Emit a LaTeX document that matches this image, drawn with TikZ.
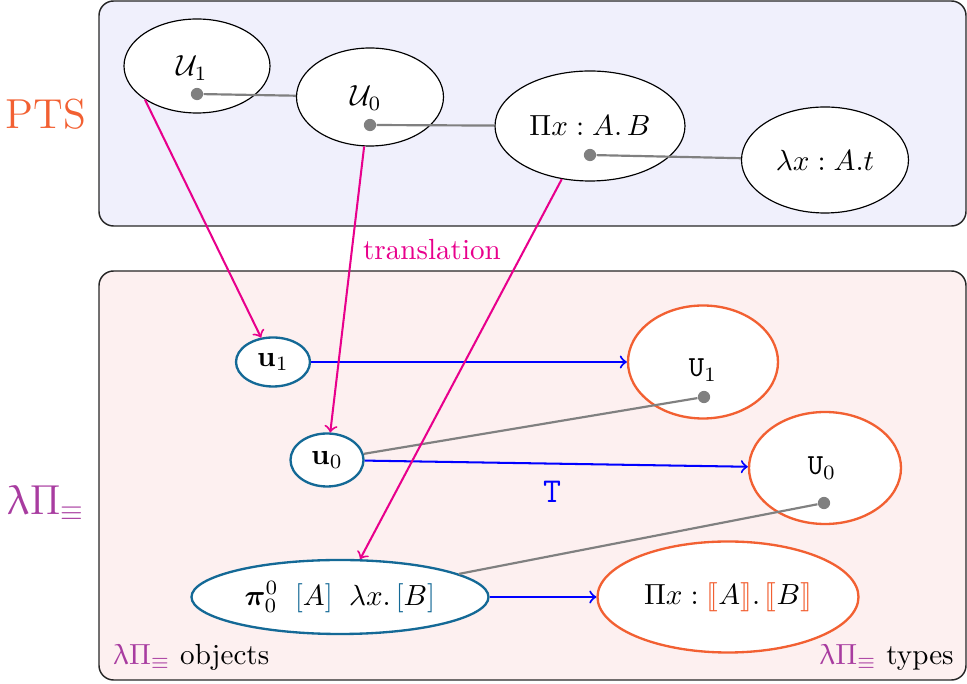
\documentclass[tikz,border=0pt]{standalone}
\usepackage{amsmath,amssymb,bm}
\usepackage{stmaryrd}
\usepackage{upgreek}
\usetikzlibrary{shapes.geometric}
\definecolor{ptsbg}{RGB}{240,240,252}
\definecolor{lpbg}{RGB}{253,240,240}
\definecolor{tealc}{RGB}{20,105,150}
\definecolor{orangec}{RGB}{242,96,50}
\definecolor{magc}{RGB}{232,0,140}
\definecolor{purpc}{RGB}{168,60,160}
\definecolor{greyc}{RGB}{128,128,128}
\tikzset{
  sz/.style 2 args={minimum width=#1*0.3436pt, minimum height=#2*0.3436pt},
  ptsnode/.style={ellipse, draw=black, fill=white, line width=0.4pt, inner sep=0pt},
  objnode/.style={ellipse, draw=tealc, fill=white, line width=0.8pt, inner sep=0pt},
  typnode/.style={ellipse, draw=orangec, fill=white, line width=0.8pt, inner sep=0pt},
  dot/.style={circle, fill=greyc, inner sep=0pt, minimum size=4.2pt},
  greyline/.style={draw=greyc, line width=0.75pt},
  transarrow/.style={draw=magc, line width=0.7pt, ->},
  tarrow/.style={draw=blue, line width=0.7pt, ->},
  region/.style={draw=black!85, line width=0.5pt, rounded corners=5pt},
}
\begin{document}
\begin{tikzpicture}[x=0.3436pt, y=-0.3436pt]
\useasboundingbox (0,0) rectangle (967,684);
% regions
\path[region, fill=ptsbg] (99,1) rectangle (966,226);
\path[region, fill=lpbg] (99,271) rectangle (966,680);
\node[text=orangec, font=\Large] (ptslab) at (46,114) {PTS};
\node[text=purpc, font=\Large] (lplab) at (46,503) {$\uplambda\Pi_{\equiv}$};
% PTS nodes
\node[ptsnode, sz={146}{94}] (U1) at (197,66) {};
\node (U1t) at (192,68) {$\mathcal{U}_1$};
\node[ptsnode, sz={147}{98}] (U0) at (370,97) {};
\node (U0t) at (366,98) {$\mathcal{U}_0$};
\node[ptsnode, sz={190}{110}] (Pi) at (590,126) {$\Pi x : A.\, B$};
\node[ptsnode, sz={167}{106}] (lam) at (825,160) {$\lambda x : A . t$};
\node[dot] (d1) at (197,94) {};
\node[dot] (d0) at (370,125) {};
\node[dot] (dp) at (590,155) {};
\draw[greyline] (d1) -- (U0);
\draw[greyline] (d0) -- (Pi);
\draw[greyline] (dp) -- (lam);
% lambda Pi nodes
\node[objnode, sz={74}{49}] (u1) at (273,362) {$\mathbf{u}_1$};
\node[objnode, sz={73}{53}] (u0) at (327,460) {$\mathbf{u}_0$};
\node[objnode, sz={297}{74}] (pi) at (340,597) {$\bm{\pi}^0_0\;\;{\color{tealc}[}A{\color{tealc}]}\;\;\lambda x.\,{\color{tealc}[}B{\color{tealc}]}$};
\node[typnode, sz={150}{113}] (TU1) at (703,362) {};
\node (TU1t) at (703,370) {$\mathtt{U}_1$};
\node[typnode, sz={152}{112}] (TU0) at (825,468) {};
\node (TU0t) at (822,468) {$\mathtt{U}_0$};
\node[typnode, sz={261}{111}] (TPi) at (728,597) {$\Pi x : {\color{orangec}\llbracket} A {\color{orangec}\rrbracket} .\, {\color{orangec}\llbracket} B {\color{orangec}\rrbracket}$};
\node[dot] (dU1) at (704,397) {};
\node[dot] (dU0) at (824,503) {};
\draw[greyline] (u0) -- (dU1);
\draw[greyline] (pi) -- (dU0);
% T arrows
\draw[tarrow] (u1) -- (TU1);
\draw[tarrow] (u0) -- (TU0);
\draw[tarrow] (pi) -- (TPi);
\node[text=blue, font=\large] (Tlab) at (552,492) {$\mathtt{T}$};
% translation arrows
\draw[transarrow] (U1.south west) -- (u1);
\draw[transarrow] (U0) -- (u0);
\draw[transarrow] (Pi) -- (pi);
\node[text=magc] (translab) at (432,250) {translation};
% corner labels
\node[anchor=west] (objlab) at (103,657) {{\color{purpc}$\uplambda\Pi_{\equiv}$} objects};
\node[anchor=east] (typlab) at (964,657) {{\color{purpc}$\uplambda\Pi_{\equiv}$} types};
\end{tikzpicture}
\end{document}
